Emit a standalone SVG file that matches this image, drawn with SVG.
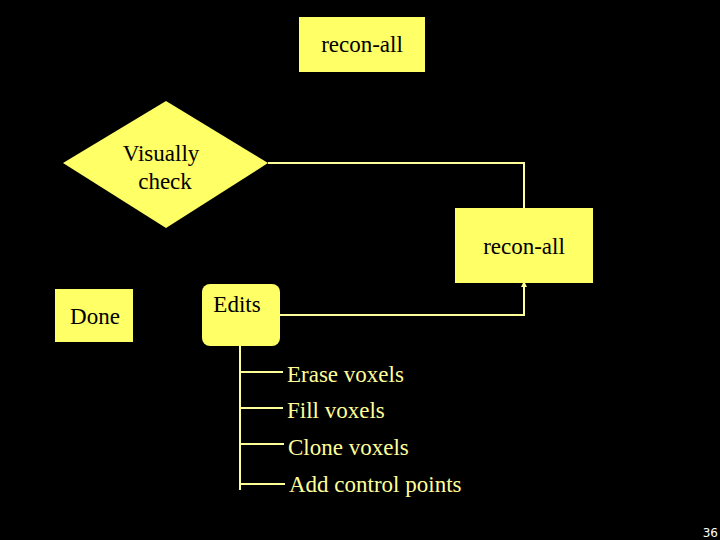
<svg xmlns="http://www.w3.org/2000/svg" width="720" height="540" viewBox="0 0 720 540">
<style>
.box{fill:#ffff66;}
.t{font-size:23px;fill:#000;text-anchor:middle;}
.lt{font-size:23px;fill:#ffff99;}
.c{stroke:#ffff99;stroke-width:2;fill:none;}
</style>
<defs>
<marker id="ah" markerWidth="6" markerHeight="6" refX="3" refY="3" orient="auto" markerUnits="userSpaceOnUse">
<path d="M0,0 L6,3 L0,6 z" fill="#ffff99"/>
</marker>
</defs>
<rect width="720" height="540" fill="#000"/>
<g id="connectors">
<polyline class="c" points="268,163 524,163 524,208"/>
<polyline class="c" points="280,315 524,315 524,284" marker-end="url(#ah)"/>
<polyline class="c" points="240,346 240,490"/>
<line class="c" x1="240" y1="372" x2="283" y2="372"/>
<line class="c" x1="240" y1="408" x2="283" y2="408"/>
<line class="c" x1="240" y1="444" x2="284" y2="444"/>
<line class="c" x1="240" y1="484" x2="285" y2="484"/>
</g>
<g font-family="Liberation Serif, serif">
<g id="recon1">
<rect class="box" x="299" y="17" width="126" height="55"/>
<text class="t" x="362" y="52">recon-all</text>
</g>
<g id="visually">
<polygon class="box" points="63,163 166,101 268,163 166,228"/>
<text class="t" x="161" y="161">Visually</text>
<text class="t" x="165" y="189">check</text>
</g>
<g id="recon2">
<rect class="box" x="455" y="208" width="138" height="75"/>
<text class="t" x="524" y="254">recon-all</text>
</g>
<g id="done">
<rect class="box" x="55" y="289" width="78" height="53"/>
<text class="t" x="95" y="324">Done</text>
</g>
<g id="edits">
<rect class="box" x="202" y="284" width="78" height="62" rx="8"/>
<text class="t" x="237" y="312">Edits</text>
</g>
<g id="items">
<text class="lt" x="287" y="382">Erase voxels</text>
<text class="lt" x="287" y="418">Fill voxels</text>
<text class="lt" x="288" y="455">Clone voxels</text>
<text class="lt" x="289" y="492">Add control points</text>
</g>
</g>
<text x="718" y="537" font-family="DejaVu Sans,sans-serif" font-size="12" fill="#fff" text-anchor="end">36</text>
</svg>
